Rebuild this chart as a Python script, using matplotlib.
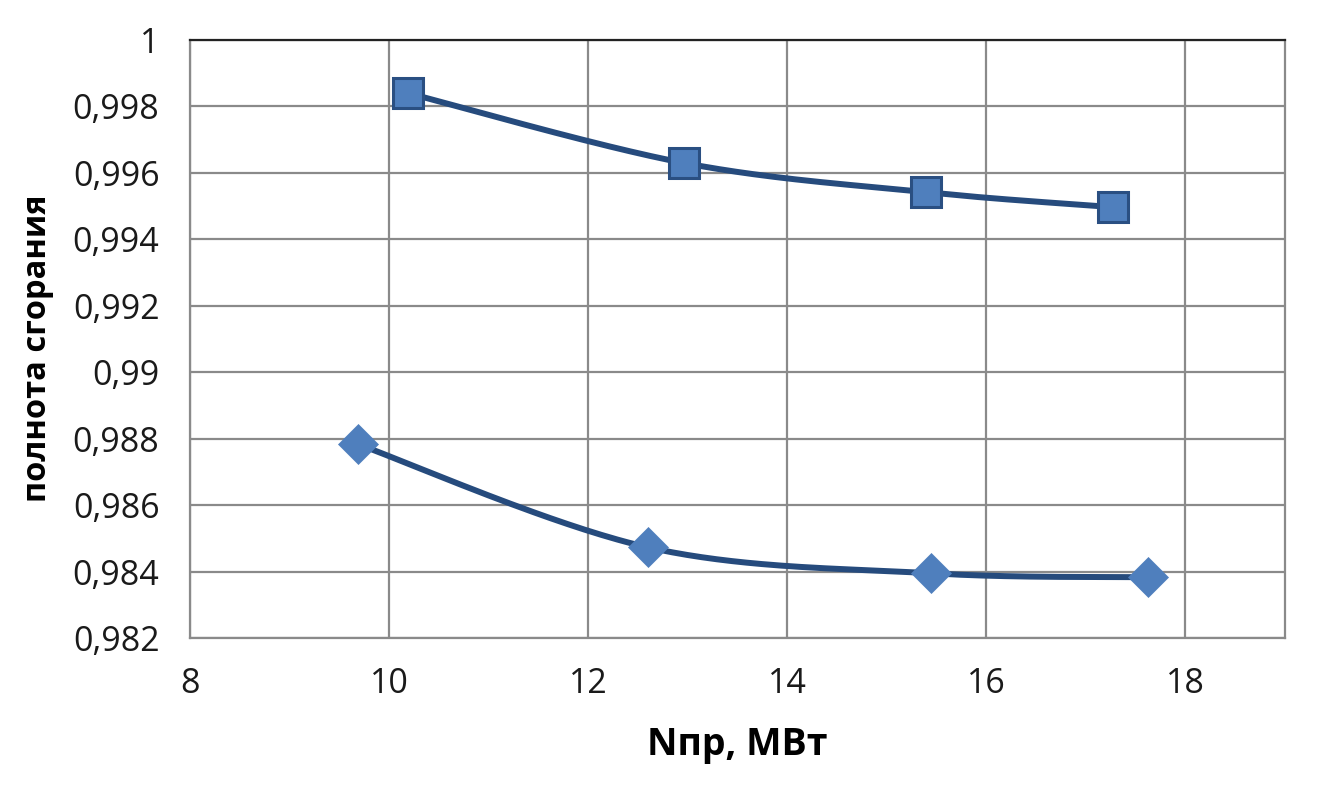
import numpy as np
import matplotlib
matplotlib.use("Agg")
import matplotlib.pyplot as plt

# Data
sq_x = [10.19, 12.96, 15.39, 17.27]
sq_y = [0.99840, 0.99630, 0.99542, 0.99497]
dm_x = [9.69, 12.60, 15.44, 17.62]
dm_y = [0.98783, 0.98473, 0.98395, 0.98383]
x_ticks = [8, 10, 12, 14, 16, 18]
y_ticks = [0.982, 0.984, 0.986, 0.988, 0.99, 0.992, 0.994, 0.996, 0.998, 1]
y_labels = ["0,982", "0,984", "0,986", "0,988", "0,99", "0,992", "0,994", "0,996", "0,998", "1"]
x_label = "Nпр, МВт"
y_label = "полнота сгорания"

plt.rcParams['font.family'] = ['Open Sans', 'DejaVu Sans']

def smooth(xs, ys, n=60):
    P = np.column_stack([xs, ys]).astype(float)
    m = len(P)
    out = []
    for i in range(m - 1):
        p0 = P[max(i - 1, 0)]
        p1 = P[i]
        p2 = P[i + 1]
        p3 = P[min(i + 2, m - 1)]
        c1 = p1 + (p2 - p0) / 6.0
        c2 = p2 - (p3 - p1) / 6.0
        t = np.linspace(0, 1, n)[:, None]
        seg = ((1 - t) ** 3) * p1 + 3 * ((1 - t) ** 2) * t * c1 + 3 * (1 - t) * t ** 2 * c2 + t ** 3 * p2
        out.append(seg if i == 0 else seg[1:])
    out = np.vstack(out)
    return out[:, 0], out[:, 1]

fig = plt.figure(figsize=(13.32, 7.92), dpi=100)
ax = fig.add_axes([0.1426, 0.1944, 0.8221, 0.7551])

line_col = '#264b7d'
fill_col = '#4f7fbd'

sx, sy = smooth(sq_x, sq_y)
ax.plot(sx, sy, color=line_col, lw=4.3, solid_capstyle='round', zorder=3)
ax.plot(sq_x, sq_y, ls='none', marker='s', ms=21, mfc=fill_col, mec='#2a4f82', mew=2.2, zorder=4)

dx, dy = smooth(dm_x, dm_y)
ax.plot(dx, dy, color=line_col, lw=4.3, solid_capstyle='round', zorder=3)
ax.plot(dm_x, dm_y, ls='none', marker='D', ms=20, mfc=fill_col, mec=fill_col, mew=0.5, zorder=4)

ax.set_xlim(8, 19)
ax.set_ylim(0.982, 1.0)
ax.set_xticks(x_ticks)
ax.set_xticklabels([str(v) for v in x_ticks])
ax.set_yticks(y_ticks)
ax.set_yticklabels(y_labels)

grid_col = '#8a8a8a'
ax.grid(True, color=grid_col, lw=1.6)
for s in ['left', 'bottom', 'right']:
    ax.spines[s].set_color(grid_col)
    ax.spines[s].set_linewidth(1.6)
ax.spines['top'].set_color('#222222')
ax.spines['top'].set_linewidth(1.6)
ax.set_axisbelow(True)

ax.tick_params(axis='both', length=0, labelsize=24.5, colors='#1a1a1a')
ax.tick_params(axis='y', pad=22)
ax.tick_params(axis='x', pad=21)

ax.set_xlabel(x_label, fontsize=27, fontweight='bold', labelpad=18)
ax.set_ylabel(y_label, fontsize=23.5, fontweight='bold', labelpad=14)
ax.yaxis.set_label_coords(-0.124, 0.485)

fig.savefig('out.png', dpi=100)
